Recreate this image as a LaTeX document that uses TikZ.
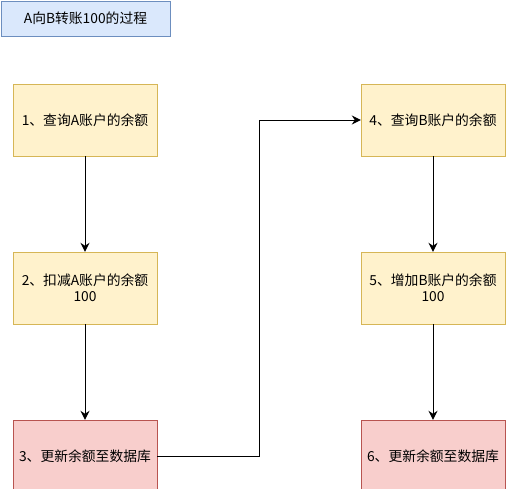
\documentclass[tikz,border=0pt]{standalone}
\usepackage{fontspec}
\setmainfont{Noto Sans CJK SC}
\usetikzlibrary{arrows.meta}
\definecolor{titlefill}{HTML}{DAE8FC}
\definecolor{titledraw}{HTML}{6C8EBF}
\definecolor{stepfill}{HTML}{FFF2CC}
\definecolor{stepdraw}{HTML}{D6B656}
\definecolor{dbfill}{HTML}{F8CECC}
\definecolor{dbdraw}{HTML}{B85450}
\tikzset{%
  box/.style      = {shape=rectangle, draw, align=center,%
                     minimum width=144pt, minimum height=72pt,%
                     inner sep=2pt, font=\fontsize{13.8}{16}\selectfont},%
  title/.style    = {box, fill=titlefill, draw=titledraw,%
                     minimum width=169pt, minimum height=35pt},%
  stepbox/.style  = {box, fill=stepfill, draw=stepdraw},%
  dbbox/.style    = {box, fill=dbfill, draw=dbdraw},%
  flow/.style     = {draw, line width=1pt, -{Stealth[length=9pt,width=9pt,inset=3pt]}}%
}
\begin{document}
\begin{tikzpicture}[x=1pt,y=-1pt]
	\useasboundingbox (0,0) rectangle (506,488);
		\node [title]   (head) at (85.5,18.5) {A向B转账100的过程};
		\node [stepbox] (s1) at (85,120) {1、查询A账户的余额};
		\node [stepbox] (s2) at (85,288) {2、扣减A账户的余额\\100};
		\node [dbbox]   (s3) at (85,456) {3、更新余额至数据库};
		\node [stepbox] (s4) at (433,120) {4、查询B账户的余额};
		\node [stepbox] (s5) at (433,288) {5、增加B账户的余额\\100};
		\node [dbbox]   (s6) at (433,456) {6、更新余额至数据库};
		\draw [flow] (s1) -- (s2);
		\draw [flow] (s2) -- (s3);
		\draw [flow] (s3.east) -| (259,120) -- (s4.west);
		\draw [flow] (s4) -- (s5);
		\draw [flow] (s5) -- (s6);
	\end{tikzpicture}
\end{document}
